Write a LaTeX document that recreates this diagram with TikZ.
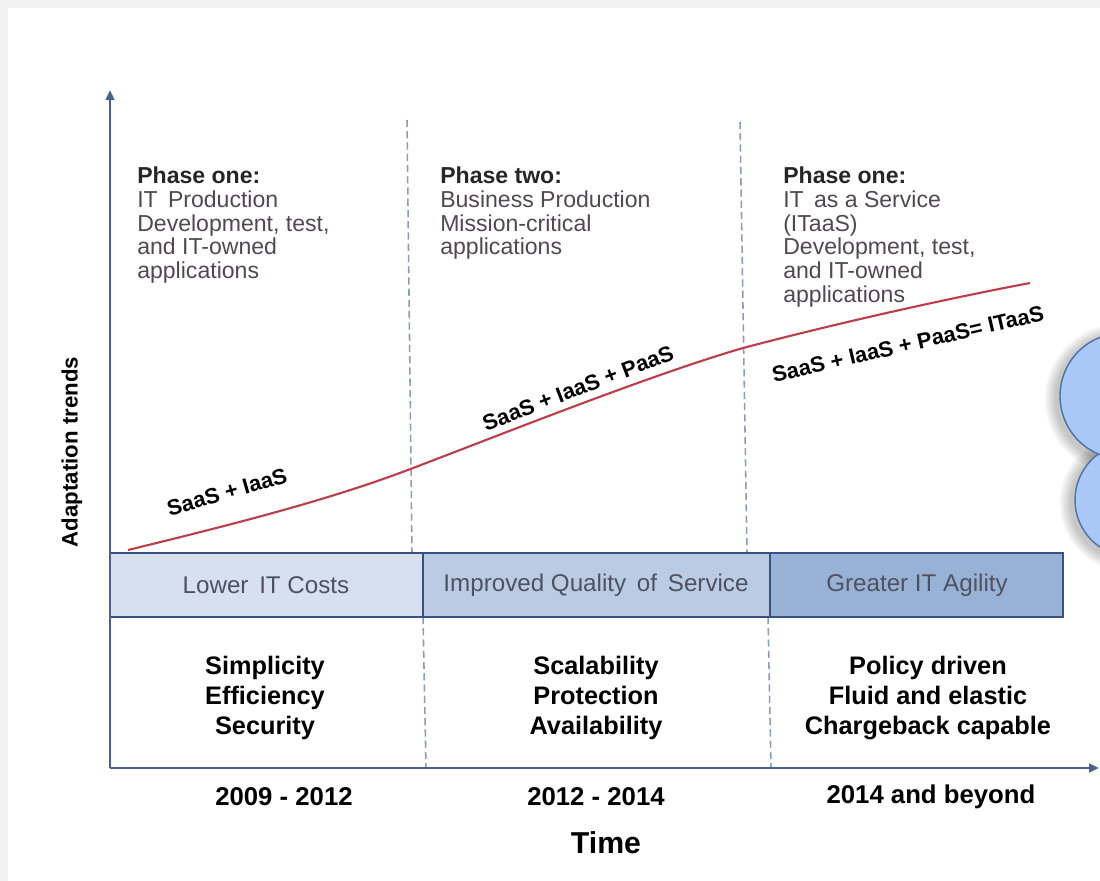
\documentclass[tikz,border=0pt]{standalone}
\usepackage{fontspec}
\setmainfont{Liberation Sans}
\definecolor{axblue}{RGB}{72,98,140}
\definecolor{dashgray}{RGB}{140,155,182}
\definecolor{trred}{RGB}{188,62,74}
\definecolor{costfill}{RGB}{214,224,238}
\definecolor{qosfill}{RGB}{186,203,227}
\definecolor{agilefill}{RGB}{152,178,214}
\definecolor{boxedge}{RGB}{55,82,130}
\definecolor{bubfill}{RGB}{170,200,245}
\definecolor{bubedge}{RGB}{68,115,185}
\definecolor{phasegray}{RGB}{82,72,80}
\definecolor{labgray}{RGB}{78,82,96}
\usetikzlibrary{arrows.meta}

\begin{document}
\begin{tikzpicture}[x=0.025cm, y=-0.025cm,
  phase/.style={anchor=north west, inner sep=0pt, align=left, text=phasegray, font=\fontsize{16.4}{16.8}\selectfont},
  benefit/.style={text=labgray, font=\fontsize{17.2}{20}\selectfont},
  trait/.style={align=center, font=\bfseries\fontsize{18}{21.3}\selectfont},
  period/.style={font=\bfseries\fontsize{18.3}{22}\selectfont},
  trend/.style={font=\bfseries\fontsize{15.6}{18}\selectfont, inner sep=1pt},
  divider/.style={dashgray, line width=1.1pt, dash pattern=on 5pt off 3pt},
  axis/.style={axblue, line width=1.8pt, -{Triangle[length=7pt,width=6pt]}}]
  \fill[gray!10] (0,0) rectangle (1100,881);
  \fill[white] (8,8) rectangle (1100,881);
  \useasboundingbox (0,0) rectangle (1100,881);

  % bubbles at the right edge
  \begin{scope}
    \clip (0,0) rectangle (1100,881);
    \foreach \s in {2,4,...,12} {
      \fill[black, opacity=0.04] (1129,503) circle[radius={57+\s}];
      \fill[black, opacity=0.04] (1120,399) circle[radius={63+\s}];
    }
    \filldraw[bubfill, draw=bubedge, line width=1pt] (1132,500) circle[radius=57];
    \filldraw[bubfill, draw=bubedge, line width=1pt] (1123,396) circle[radius=63];
  \end{scope}

  \draw[divider] (407,120) -- (412,553);
  \draw[divider] (423,617) -- (426,768);
  \draw[divider] (740,122) -- (747,553);
  \draw[divider] (768,617) -- (771,768);

  \filldraw[costfill, draw=boxedge, line width=2pt] (110,553) rectangle (423,617);
  \filldraw[qosfill, draw=boxedge, line width=2pt] (423,553) rectangle (770,617);
  \filldraw[agilefill, draw=boxedge, line width=2pt] (770,553) rectangle (1063,617);
  \node[benefit] (cost) at (266,585) {Lower\, IT Costs};
  \node[benefit] (qos) at (596,585) {Improved Quality\, of\, Service};
  \node[benefit] (agile) at (917,585) {Greater IT Agility};

  \draw[axis] (110,768) -- (110,90);
  \draw[axis] (110,768) -- (1099,768);

  \draw[trred, line width=1.5pt] (128,550) .. controls (230,525) and (330,500) .. (413,468)
    .. controls (500,435) and (650,375) .. (743,348)
    .. controls (830,325) and (940,300) .. (1030,283);
  \node[trend, rotate=16] (t1) at (227,492) {SaaS + IaaS};
  \node[trend, rotate=21] (t2) at (578,388) {SaaS + IaaS + PaaS};
  \node[trend, rotate=13] (t3) at (908,344) {SaaS + IaaS + PaaS= ITaaS};

  \node[phase] (p1) at (137,167) {\textcolor{black!85}{\bfseries Phase one:}\\IT\, Production\\Development, test,\\and IT-owned\\applications};
  \node[phase] (p2) at (440,167) {\textcolor{black!85}{\bfseries Phase two:}\\Business Production\\Mission-critical\\applications};
  \node[phase] (p3) at (783,167) {\textcolor{black!85}{\bfseries Phase one:}\\IT\, as a Service\\(ITaaS)\\Development, test,\\and IT-owned\\applications};

  \node[trait] (s1) at (265,698) {Simplicity\\Efficiency\\Security};
  \node[trait] (s2) at (596,698) {Scalability\\Protection\\Availability};
  \node[trait] (s3) at (928,698) {Policy driven\\Fluid and elastic\\Chargeback capable};

  \node[period] (y1) at (284,797) {2009 - 2012};
  \node[period] (y2) at (596,797) {2012 - 2014};
  \node[period] (y3) at (931,797) {2014 and beyond};
  \node[font=\bfseries\fontsize{21.5}{24}\selectfont] (time) at (606,843) {Time};
  \node[font=\bfseries\fontsize{15.8}{18}\selectfont, rotate=90] (adapt) at (72,452) {Adaptation trends};
\end{tikzpicture}
\end{document}
